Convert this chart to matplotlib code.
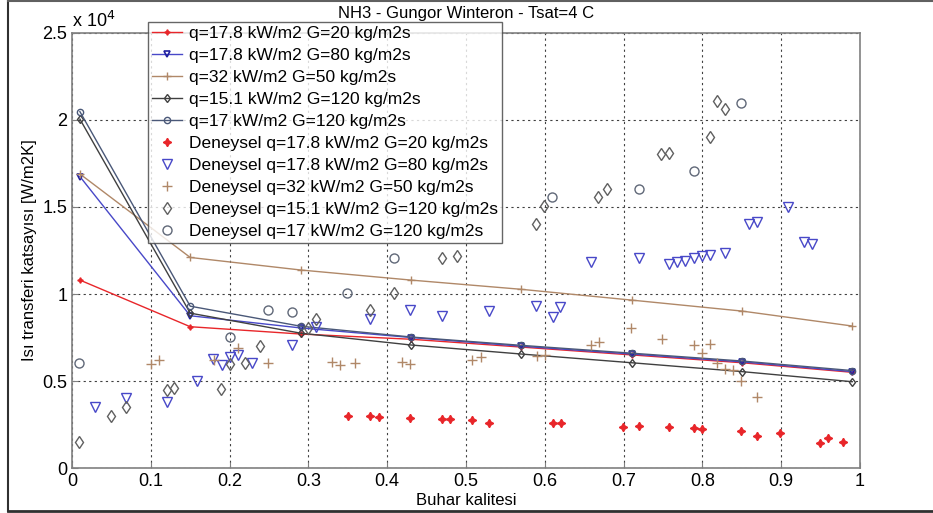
import matplotlib.pyplot as plt
import numpy as np

plt.rcParams['font.family'] = ['Liberation Sans', 'DejaVu Sans']

# model curves (x = vapour quality)
x_model = [0.01, 0.15, 0.29, 0.43, 0.57, 0.71, 0.85, 0.99]
h_q178_g20 = [10800, 8120, 7700, 7400, 6950, 6500, 6050, 5500]
h_q178_g80 = [16750, 8750, 8050, 7500, 7000, 6550, 6100, 5540]
h_q32_g50 = [16900, 12100, 11380, 10800, 10270, 9650, 9020, 8160]
h_q151_g120 = [20050, 8900, 7750, 7070, 6550, 6050, 5540, 4960]
h_q17_g120 = [20480, 9300, 8150, 7530, 7050, 6600, 6150, 5600]

# experimental points
ex_q178_g20 = [0.35, 0.378, 0.389, 0.429, 0.469, 0.48, 0.508, 0.529, 0.61, 0.62, 0.699,
               0.719, 0.758, 0.789, 0.799, 0.849, 0.869, 0.898, 0.949, 0.959, 0.979]
ey_q178_g20 = [3006, 2969, 2931, 2873, 2835, 2816, 2739, 2605, 2567, 2605, 2375,
               2433, 2337, 2279, 2260, 2146, 1839, 2011, 1418, 1724, 1475]

ex_q178_g80 = [0.029, 0.069, 0.120, 0.158, 0.179, 0.190, 0.200, 0.210, 0.229, 0.279, 0.31,
               0.378, 0.429, 0.469, 0.529, 0.589, 0.610, 0.619, 0.659, 0.719, 0.758, 0.768,
               0.778, 0.789, 0.799, 0.809, 0.829, 0.859, 0.869, 0.909, 0.929, 0.939]
ey_q178_g80 = [3525, 4003, 3812, 5019, 6245, 5919, 6398, 6494, 6053, 7069, 8083,
               8544, 9080, 8736, 9042, 9310, 8697, 9234, 11840, 12050, 11743, 11839,
               11915, 12050, 12184, 12241, 12337, 14005, 14138, 14999, 12988, 12855]

ex_q32_g50 = [0.100, 0.110, 0.180, 0.210, 0.249, 0.330, 0.340, 0.359, 0.419, 0.429, 0.508,
              0.519, 0.590, 0.600, 0.659, 0.669, 0.709, 0.749, 0.789, 0.799, 0.809, 0.819,
              0.829, 0.839, 0.849, 0.869]
ey_q32_g50 = [5977, 6207, 6200, 6877, 6015, 6111, 5919, 6015, 6111, 5977, 6207,
              6360, 6437, 6513, 7060, 7250, 8026, 7433, 7050, 6628, 7107, 6053,
              5708, 5632, 5019, 4061]

ex_q151_g120 = [0.009, 0.049, 0.069, 0.120, 0.129, 0.189, 0.200, 0.220, 0.239, 0.299, 0.310,
                0.378, 0.409, 0.469, 0.489, 0.589, 0.599, 0.668, 0.679, 0.748, 0.758, 0.809,
                0.819, 0.829]
ey_q151_g120 = [1513, 3006, 3525, 4483, 4578, 4521, 5977, 6015, 7011, 8026, 8544,
                9080, 10076, 12088, 12184, 14023, 15057, 15557, 16034, 18029, 18121, 19041,
                21074, 20650]

ex_q17_g120 = [0.009, 0.200, 0.249, 0.279, 0.349, 0.409, 0.609, 0.719, 0.789, 0.849]
ey_q17_g120 = [6030, 7548, 9080, 8946, 10050, 12088, 15557, 16050, 17052, 20957]

c_red = '#e8262a'
c_blue = '#4848c8'
c_brown = '#b08868'
c_black = '#404040'
c_slate = '#4a5878'
star4 = (4, 1, 0)

fig = plt.figure(figsize=(9.33, 5.13), dpi=100)
ax = fig.add_axes([0.0772, 0.0877, 0.8446, 0.848])

ax.plot(x_model, h_q178_g20, '-', color=c_red, lw=1, marker=star4, ms=4, mfc=c_red, mec=c_red,
        label='q=17.8 kW/m2 G=20 kg/m2s')
ax.plot(x_model, h_q178_g80, '-', color=c_blue, lw=1, marker='v', ms=4.5, mfc='none', mec='#2020a0', mew=1.2,
        label='q=17.8 kW/m2 G=80 kg/m2s')
ax.plot(x_model, h_q32_g50, '-', color=c_brown, lw=1, marker='+', ms=6, mec=c_brown,
        label='q=32 kW/m2 G=50 kg/m2s')
ax.plot(x_model, h_q151_g120, '-', color=c_black, lw=1, marker='d', ms=4.5, mfc='none', mec=c_black,
        label='q=15.1 kW/m2 G=120 kg/m2s')
ax.plot(x_model, h_q17_g120, '-', color=c_slate, lw=1, marker='o', ms=4.5, mfc='none', mec=c_slate,
        label='q=17 kW/m2 G=120 kg/m2s')

ax.plot(ex_q178_g20, ey_q178_g20, ls='none', marker=star4, ms=6, color=c_red,
        label='Deneysel q=17.8 kW/m2 G=20 kg/m2s')
ax.plot(ex_q178_g80, ey_q178_g80, ls='none', marker='v', ms=6.5, mfc='none', mec=c_blue,
        label='Deneysel q=17.8 kW/m2 G=80 kg/m2s')
ax.plot(ex_q32_g50, ey_q32_g50, ls='none', marker='+', ms=7, mec=c_brown,
        label='Deneysel q=32 kW/m2 G=50 kg/m2s')
ax.plot(ex_q151_g120, ey_q151_g120, ls='none', marker='d', ms=6.5, mfc='none', mec='#606060',
        label='Deneysel q=15.1 kW/m2 G=120 kg/m2s')
ax.plot(ex_q17_g120, ey_q17_g120, ls='none', marker='o', ms=6.5, mfc='none', mec='#606878',
        label='Deneysel q=17 kW/m2 G=120 kg/m2s')

ax.set_xlim(0, 1)
ax.set_ylim(0, 25000)
ax.set_xticks(np.arange(0, 1.01, 0.1))
ax.set_xticklabels(['0', '0.1', '0.2', '0.3', '0.4', '0.5', '0.6', '0.7', '0.8', '0.9', '1'])
ax.set_yticks([0, 5000, 10000, 15000, 20000, 25000])
ax.set_yticklabels(['0', '0.5', '1', '1.5', '2', '2.5'])
ax.tick_params(direction='in', labelsize=13, length=4, color='#808080')
ax.grid(True, linestyle=(0, (2, 3)), color='#404040', lw=0.8)
for s in ax.spines.values():
    s.set_color('#808080')
    s.set_linewidth(1.2)

ax.text(0.0, 1.005, r'x 10$^4$', transform=ax.transAxes, fontsize=13, va='bottom', ha='left')
ax.set_title('NH3 - Gungor Winteron - Tsat=4 C', fontsize=12, pad=11)
ax.set_xlabel('Buhar kalitesi', fontsize=12, labelpad=2)
ax.set_ylabel('Isı transferi katsayısı [W/m2K]', fontsize=12, labelpad=4)

leg = fig.legend(loc='upper left', bbox_to_anchor=(148 / 933, 1 - 22 / 513), fontsize=12.5,
                 frameon=True, fancybox=False, edgecolor='#404040', borderpad=0.25,
                 labelspacing=0.39, handlelength=1.7, handletextpad=0.4, borderaxespad=0)
leg.get_frame().set_linewidth(1.0)

# outer frame
fig.add_artist(plt.Line2D([8 / 933, 8 / 933], [2 / 513, 1 - 1 / 513], color='#303030', lw=1.5))
fig.add_artist(plt.Line2D([8 / 933, 1], [1 - 1 / 513, 1 - 1 / 513], color='#606060', lw=1.5))
fig.add_artist(plt.Line2D([8 / 933, 1], [2 / 513, 2 / 513], color='#303030', lw=2))

fig.savefig('out.png', dpi=100)
